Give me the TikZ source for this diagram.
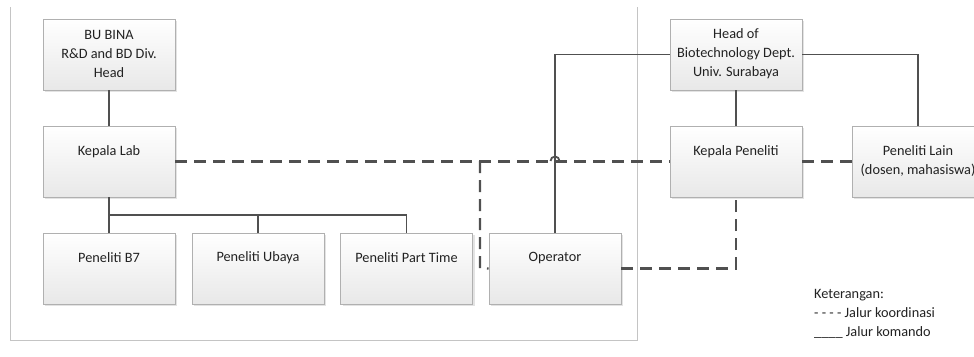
\documentclass[tikz,border=0pt]{standalone}
\usepackage{fontspec}
\setmainfont{Carlito}
\usetikzlibrary{shadows}
\definecolor{linec}{HTML}{505050}
\definecolor{boxline}{HTML}{B0B0B0}
\definecolor{frame}{HTML}{C4C4C4}
\definecolor{boxbot}{HTML}{E8E8E8}
\definecolor{txt}{HTML}{222222}
\tikzset{
  orgbox/.style={rectangle, draw=boxline, line width=0.9pt, top color=white, bottom color=boxbot,
    minimum width=132pt, minimum height=71pt, inner sep=0pt,
    drop shadow={shadow xshift=2pt, shadow yshift=-2pt, fill=black!18, opacity=0.6}},
  lbl/.style={align=center, text=txt, font=\fontsize{14.3}{19}\selectfont, inner sep=0pt},
  cmd/.style={draw=linec, line width=1.8pt},
  coord/.style={draw=linec, line width=2.2pt, dash pattern=on 12pt off 7pt},
}
\begin{document}
\begin{tikzpicture}[x=1pt,y=-1pt]
\useasboundingbox (0,0) rectangle (974,356);
\clip (0,0) rectangle (974,356);
% container frame
\draw[frame, line width=1pt] (10.5,7) -- (10.5,340) -- (637,340) -- (637,7);
% boxes
\node[orgbox] (bu) at (109,54.5) {};
\node[orgbox] (lab) at (109,161.5) {};
\node[orgbox] (b7) at (109,268.5) {};
\node[orgbox] (ubaya) at (258,268.5) {};
\node[orgbox] (pt) at (406.5,268.5) {};
\node[orgbox] (op) at (555,268.5) {};
\node[orgbox] (head) at (736,54.5) {};
\node[orgbox] (kp) at (736,161.5) {};
\node[orgbox] (lain) at (918,161.5) {};
% labels
\node[lbl] (tbu) at (109,54) {BU BINA\\R\&D and BD Div.\\Head};
\node[lbl] (tlab) at (109,152) {Kepala Lab};
\node[lbl] (tb7) at (109,258) {Peneliti B7};
\node[lbl] (tub) at (258,258) {Peneliti Ubaya};
\node[lbl] (tpt) at (406.5,258) {Peneliti Part Time};
\node[lbl] (top) at (555,258) {Operator};
\node[lbl] (thead) at (736,54) {Head of\\Biotechnology Dept.\\Univ. Surabaya};
\node[lbl] (tkp) at (736,152) {Kepala Peneliti};
\node[lbl] (tlain) at (918,161.5) {Peneliti Lain\\(dosen, mahasiswa)};
% command lines
\draw[cmd] (bu.south) -- (lab.north);
\draw[cmd] (lab.south) -- (109,215) -| (pt.north);
\draw[cmd] (109,215) -| (ubaya.north);
\draw[cmd] (lab.south) -- (b7.north);
\draw[cmd] (head.south) -- (kp.north);
\draw[cmd] (head.east) -| (lain.north);
\coordinate (jmp) at (555,161);
\draw[cmd] (op.north) -- (op.north |- head.west) -- (head.west);
\draw[cmd] ([xshift=-4.5pt]jmp) arc (180:0:4.5pt);
% coordination lines
\draw[coord] (lab.east |- lab.center) -- (kp.west);
\draw[coord] (kp.east) -- (lain.west);
\draw[coord] (480,161) -- (480,268) -- (op.west);
\draw[coord] (op.east) -| (kp.south);
% legend
\node[lbl, anchor=west, align=left] (leg) at (814,314) {Keterangan:\\- - - - Jalur koordinasi\\\_\_\_\_ Jalur komando};
\end{tikzpicture}
\end{document}
